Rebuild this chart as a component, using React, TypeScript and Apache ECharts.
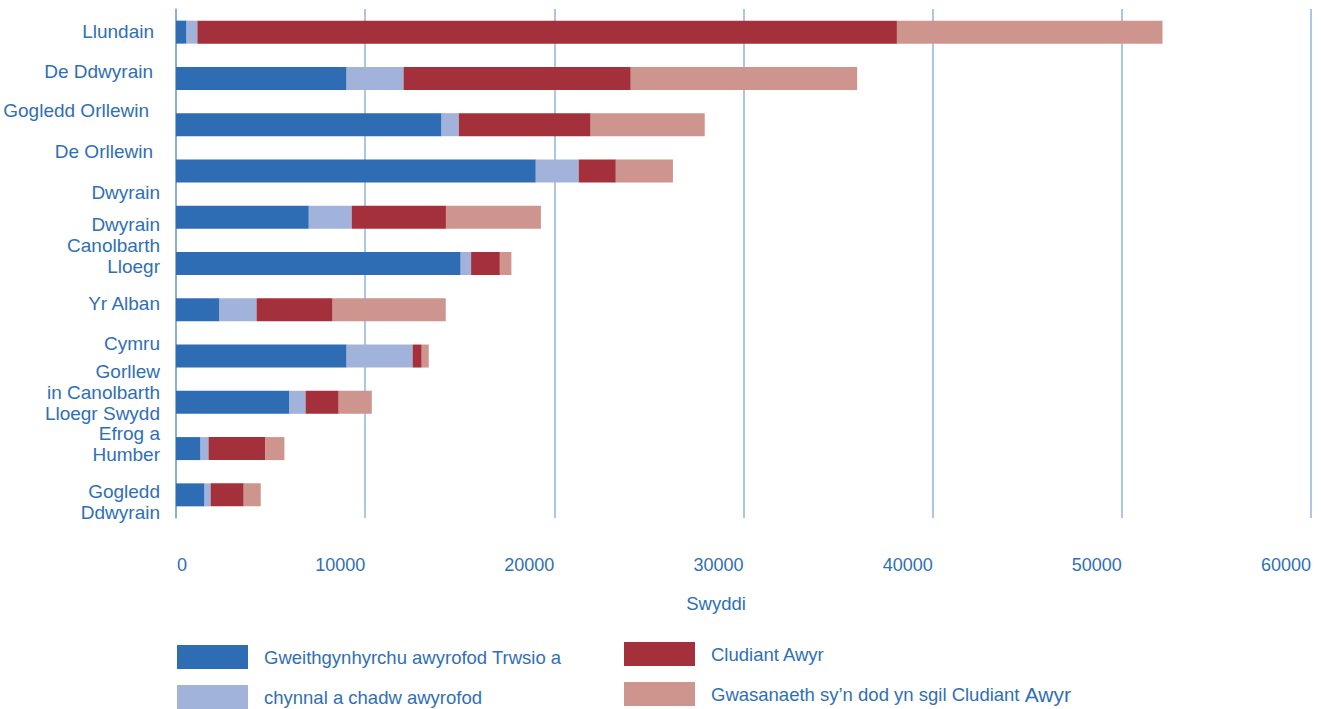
import React, { useEffect, useRef } from "react";
import * as echarts from "echarts";

const categories = [
  "Llundain",
  "De Ddwyrain",
  "Gogledd Orllewin",
  "De Orllewin",
  "Dwyrain",
  "Dwyrain\nCanolbarth\nLloegr",
  "Yr Alban",
  "Cymru",
  "Gorllew\nin Canolbarth\nLloegr Swydd",
  "Efrog a\nHumber",
  "Gogledd\nDdwyrain",
];

const seriesNames = [
  "Gweithgynhyrchu awyrofod Trwsio a",
  "chynnal a chadw awyrofod",
  "Cludiant Awyr",
  "Gwasanaeth sy\u2019n dod yn sgil Cludiant Awyr",
];

const manufacturing = [560, 9020, 14040, 19020, 7020, 15050, 2300, 9020, 6000, 1300, 1510];
const maintenance = [570, 3010, 910, 2270, 2270, 550, 1960, 3490, 850, 420, 320];
const airTransport = [36980, 12010, 6970, 1960, 4980, 1520, 4020, 480, 1750, 3010, 1750];
const services = [14040, 11970, 6030, 3020, 5020, 610, 5980, 370, 1750, 1000, 900];

const xTicks = [0, 10000, 20000, 30000, 40000, 50000, 60000];
const axisTitle = "Swyddi";

// layout tweaks for the category labels (vertical offset, right edge)
const labelDy = [-1, -7, -14, -19, -25, -18, -6, -13, -10, -5, 7];
const labelRight = [154, 153, 149, 153, 160, 160, 160, 160, 160, 160, 160];

const colors = ["#2e6db4", "#a1b3db", "#a3303a", "#cd958d"];
const textColor = "#2f6fb6";
const gridColor = "#8fb4de";
const FONT = "Liberation Sans, Arial, sans-serif";

export default function App() {
  const ref = useRef<HTMLDivElement>(null);
  useEffect(() => {
    if (!ref.current) return;
    const chart = echarts.init(ref.current, null, { renderer: "svg" });
    const values = [manufacturing, maintenance, airTransport, services];
    const option: any = {
      animation: false,
      textStyle: { fontFamily: FONT },
      grid: { left: 176, right: 10, top: 9, bottom: 191, containLabel: false },
      xAxis: {
        type: "value",
        min: xTicks[0],
        max: xTicks[xTicks.length - 1],
        interval: xTicks[1] - xTicks[0],
        axisLine: { show: false },
        axisTick: { show: false },
        splitLine: { show: true, lineStyle: { color: gridColor, width: 1.5 } },
        axisLabel: {
          margin: 38,
          color: textColor,
          fontSize: 18,
          fontFamily: FONT,
          formatter: (v: number) => (v === 0 ? "{z|0}" : "{n|" + v + "}"),
          rich: {
            z: { fontSize: 18, color: textColor, fontFamily: FONT, padding: [0, 0, 0, 12] },
            n: { fontSize: 18, color: textColor, fontFamily: FONT, padding: [0, 50, 0, 0] },
          },
        },
      },
      yAxis: {
        type: "category",
        data: categories,
        inverse: true,
        axisLabel: { show: false },
        axisTick: { show: false },
        axisLine: { show: true, lineStyle: { color: "#7fa6d6", width: 1.5 } },
        splitLine: { show: false },
      },
      legend: [
        {
          data: [seriesNames[0], seriesNames[1]],
          left: 177,
          top: 645,
          orient: "vertical",
          padding: 0,
          itemWidth: 71,
          itemHeight: 24,
          itemGap: 16,
          icon: "rect",
          selectedMode: false,
          textStyle: { color: textColor, fontSize: 18.5, fontFamily: FONT, padding: [0, 0, 0, 11] },
        },
        {
          data: [seriesNames[2], seriesNames[3]],
          left: 624,
          top: 642,
          orient: "vertical",
          padding: 0,
          itemWidth: 71,
          itemHeight: 24,
          itemGap: 16,
          icon: "rect",
          selectedMode: false,
          formatter: (name: string) => {
            if (name === seriesNames[3]) {
              const idx = name.lastIndexOf(" ");
              return "{a|" + name.slice(0, idx + 1) + "}{b|" + name.slice(idx + 1) + "}";
            }
            return name;
          },
          textStyle: {
            color: textColor,
            fontSize: 18.5,
            fontFamily: FONT,
            padding: [0, 0, 0, 11],
            rich: {
              a: { color: textColor, fontSize: 18.5, fontFamily: FONT },
              b: { color: textColor, fontSize: 21, fontFamily: FONT },
            },
          },
        },
      ],
      series: values.map((arr, i) => ({
        name: seriesNames[i],
        type: "bar",
        stack: "total",
        barWidth: 23,
        data: arr,
        itemStyle: { color: colors[i] },
        emphasis: { disabled: true },
      })),
    };
    chart.setOption(option);

    const graphics: any[] = categories.map((c, i) => {
      const y = chart.convertToPixel({ yAxisIndex: 0 }, i) as number;
      return {
        type: "text",
        x: labelRight[i],
        y: y + labelDy[i],
        style: {
          text: c,
          align: "right",
          verticalAlign: "middle",
          fill: textColor,
          fontSize: 19,
          lineHeight: 21,
          fontFamily: FONT,
        },
      };
    });
    graphics.push({
      type: "text",
      x: 716,
      y: 603,
      style: {
        text: axisTitle,
        align: "center",
        verticalAlign: "middle",
        fill: textColor,
        fontSize: 18.5,
        fontFamily: FONT,
      },
    });
    chart.setOption({ graphic: graphics });

    return () => chart.dispose();
  }, []);
  return (
    <div
      ref={ref}
      style={{ position: "absolute", left: 0, top: 0, width: 1321, height: 709 }}
    />
  );
}
